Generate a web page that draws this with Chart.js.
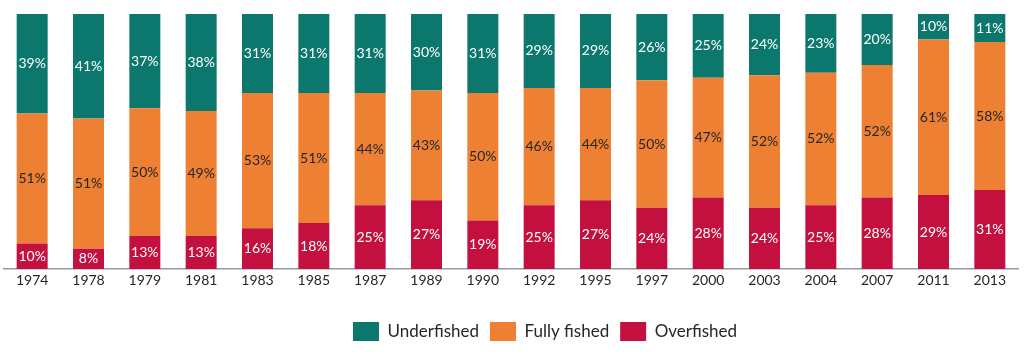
<!DOCTYPE html>
<html><head><meta charset="utf-8">
<script src="https://cdn.jsdelivr.net/npm/chart.js@4"></script>
<style>html,body{margin:0;padding:0;background:#fff;}#wrap{width:1024px;height:355px;}</style>
</head><body><div id="wrap"><canvas id="c" width="1024" height="355"></canvas></div>
<script>
const years = ["1974","1978","1979","1981","1983","1985","1987","1989","1990","1992","1995","1997","2000","2003","2004","2007","2011","2013"];
const overfished  = [10,8,13,13,16,18,25,27,19,25,27,24,28,24,25,28,29,31];
const fullyFished = [51,51,50,49,53,51,44,43,50,46,44,50,47,52,52,52,61,58];
const underfished = [39,41,37,38,31,31,31,30,31,29,29,26,25,24,23,20,10,11];

const FONT = "Lato, 'Open Sans', sans-serif";
const labelPlugin = {
  id: 'segLabels',
  afterDatasetsDraw(chart) {
    const ctx = chart.ctx;
    ctx.save();
    ctx.font = "14px " + FONT;
    ctx.textAlign = 'center';
    ctx.textBaseline = 'middle';
    chart.data.datasets.forEach((ds, i) => {
      const meta = chart.getDatasetMeta(i);
      meta.data.forEach((el, j) => {
        const v = ds.data[j];
        ctx.fillStyle = ds.labelColor;
        ctx.fillText(v + '%', el.x, (el.y + el.base) / 2);
      });
    });
    ctx.restore();
  }
};
const legendShift = {
  id: 'legendShift',
  afterLayout(chart) {
    if (chart.legend) { chart.legend.left += 34; chart.legend.right += 34; }
  }
};

new Chart(document.getElementById('c'), {
  type: 'bar',
  data: {
    labels: years,
    datasets: [
      {label: 'Overfished', data: overfished, backgroundColor: '#C3103F', labelColor: '#ffffff'},
      {label: 'Fully fished', data: fullyFished, backgroundColor: '#EE8034', labelColor: '#262626'},
      {label: 'Underfished', data: underfished, backgroundColor: '#0C786D', labelColor: '#ffffff'}
    ]
  },
  options: {
    responsive: false,
    animation: false,
    layout: {padding: {left: 4, right: 6, top: 14, bottom: 4}},
    datasets: {bar: {categoryPercentage: 1, barPercentage: 0.55}},
    scales: {
      x: {stacked: true,
          grid: {display: false, drawTicks: false},
          border: {color: '#999999', width: 1.5},
          ticks: {color: '#262626', font: {family: FONT, size: 14}, padding: 3, maxRotation: 0, autoSkip: false}},
      y: {stacked: true, display: false, min: 0, max: 100}
    },
    plugins: {
      legend: {position: 'bottom', reverse: true,
        title: {display: true, text: '', font: {size: 1}, padding: {top: 9, bottom: 9}},
        labels: {boxWidth: 26, boxHeight: 19, padding: 11, color: '#262626', font: {family: FONT, size: 17}}},
      tooltip: {enabled: false}
    }
  },
  plugins: [labelPlugin, legendShift]
});
</script></body></html>
